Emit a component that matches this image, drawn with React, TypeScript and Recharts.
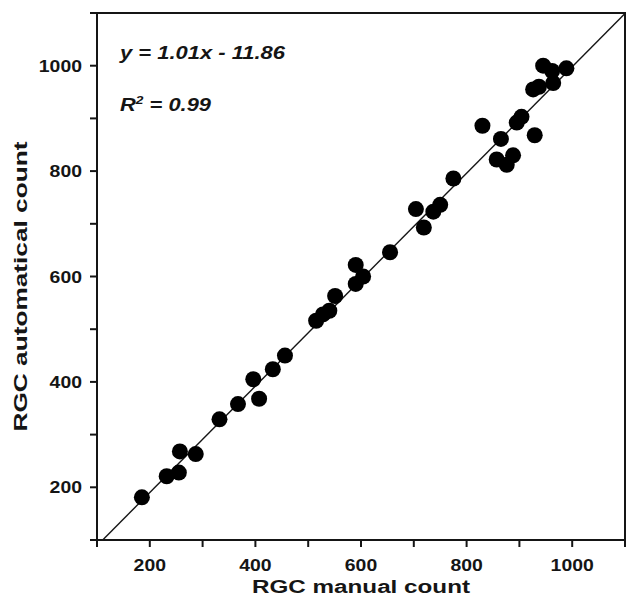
import { ScatterChart, Scatter, XAxis, YAxis, ReferenceLine, ReferenceArea } from "recharts";

// RGC counts (manual vs automatic)
const manualCount = [
  185, 232, 255, 257, 287, 332, 367, 396, 407, 433, 456, 515, 528, 540, 551, 590, 590, 604, 655,
  704, 719, 737, 750, 775, 830, 857, 865, 876, 888, 895, 904, 929, 926, 937, 945, 962, 964, 989,
];
const automaticalCount = [
  181, 221, 228, 268, 263, 329, 358, 405, 368, 424, 450, 516, 528, 535, 563, 622, 586, 600, 646,
  728, 693, 723, 736, 786, 886, 822, 861, 812, 830, 892, 903, 868, 955, 960, 1000, 990, 967, 995,
];

const axisTicks = [100, 200, 300, 400, 500, 600, 700, 800, 900, 1000, 1100];
const labeledTicks = [200, 400, 600, 800, 1000];
const axisMin = 100;
const axisMax = 1100;

const slope = 1.01;
const intercept = -11.86;
const rSquared = 0.99;

const points = manualCount.map((x, i) => ({ x, y: automaticalCount[i] }));
const fitStart = { x: (axisMin - intercept) / slope, y: axisMin };
const fitEnd = { x: axisMax, y: slope * axisMax + intercept };

const FONT = "'Liberation Sans', Arial, Helvetica, sans-serif";
const INK = "#151515";
const DIGIT_W = 10.8;

const XTick = (props: any) => {
  const { x, y, payload } = props;
  if (!labeledTicks.includes(payload.value)) return null;
  const s = String(payload.value);
  return (
    <text x={x} y={y} dy="0.71em" textAnchor="middle" fontFamily={FONT} fontWeight="bold" fontSize={17}
      fill={INK} textLength={s.length * DIGIT_W} lengthAdjust="spacingAndGlyphs">
      {s}
    </text>
  );
};

const YTick = (props: any) => {
  const { x, y, payload } = props;
  if (!labeledTicks.includes(payload.value)) return null;
  const s = String(payload.value);
  return (
    <text x={x} y={y} dy="0.36em" textAnchor="end" fontFamily={FONT} fontWeight="bold" fontSize={17}
      fill={INK} textLength={s.length * DIGIT_W} lengthAdjust="spacingAndGlyphs">
      {s}
    </text>
  );
};

const XTitle = (props: any) => {
  const vb = props.viewBox;
  return (
    <text x={vb.x + vb.width / 2} y={593} textAnchor="middle" fontFamily={FONT} fontWeight="bold" fontSize={18}
      fill={INK} textLength={218} lengthAdjust="spacingAndGlyphs">
      RGC manual count
    </text>
  );
};

const YTitle = (props: any) => {
  const vb = props.viewBox;
  const cy = vb.y + vb.height / 2 + 10;
  return (
    <text x={27} y={cy} transform={`rotate(-90, 27, ${cy})`} textAnchor="middle" fontFamily={FONT}
      fontWeight="bold" fontSize={18} fill={INK} textLength={290} lengthAdjust="spacingAndGlyphs">
      RGC automatical count
    </text>
  );
};

const Dot = (props: any) => <circle cx={props.cx} cy={props.cy} r={8} fill="#000" />;

export default function App() {
  return (
    <div style={{ position: "absolute", left: 0, top: 0, width: 626, height: 605, background: "#fff" }}>
      <ScatterChart width={626} height={605} margin={{ top: 13, right: 1, bottom: 0, left: 0 }}>
        <XAxis
          type="number"
          dataKey="x"
          domain={[axisMin, axisMax]}
          ticks={axisTicks}
          interval={0}
          tick={<XTick />}
          tickSize={7}
          tickMargin={12}
          height={65}
          axisLine={{ stroke: INK, strokeWidth: 2 }}
          tickLine={{ stroke: INK, strokeWidth: 2 }}
          label={XTitle}
        />
        <YAxis
          type="number"
          dataKey="y"
          domain={[axisMin, axisMax]}
          ticks={axisTicks}
          interval={0}
          tick={<YTick />}
          tickSize={7}
          tickMargin={8}
          width={97}
          axisLine={{ stroke: INK, strokeWidth: 2 }}
          tickLine={{ stroke: INK, strokeWidth: 2 }}
          label={YTitle}
        />
        <ReferenceArea x1={axisMin} x2={axisMax} y1={axisMin} y2={axisMax} fill="none" stroke={INK}
          strokeWidth={2} ifOverflow="visible" />
        <ReferenceLine segment={[fitStart, fitEnd]} stroke={INK} strokeWidth={1.4} ifOverflow="visible" />
        <Scatter data={points} shape={<Dot />} isAnimationActive={false} />
      </ScatterChart>
      <svg width={626} height={605} style={{ position: "absolute", left: 0, top: 0, pointerEvents: "none" }}>
        <text x={120} y={59} fontFamily={FONT} fontWeight="bold" fontStyle="italic" fontSize={17.5} fill={INK}
          textLength={165} lengthAdjust="spacingAndGlyphs">
          {`y = ${slope.toFixed(2)}x - ${Math.abs(intercept).toFixed(2)}`}
        </text>
        <text x={120} y={111} fontFamily={FONT} fontWeight="bold" fontStyle="italic" fontSize={17.5} fill={INK}
          textLength={91} lengthAdjust="spacingAndGlyphs">
          R
          <tspan dy={-7} fontSize={11}>2</tspan>
          <tspan dy={7}>{` = ${rSquared.toFixed(2)}`}</tspan>
        </text>
      </svg>
    </div>
  );
}
